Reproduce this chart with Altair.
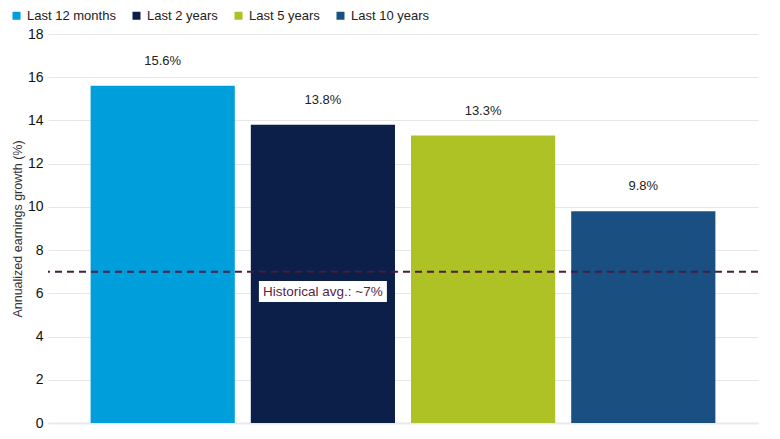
import altair as alt
import pandas as pd

# chart values
periods = ["Last 12 months", "Last 2 years", "Last 5 years", "Last 10 years"]
growth = [15.6, 13.8, 13.3, 9.8]
bar_colors = ["#009EDB", "#0B1F48", "#AEC226", "#1A4F81"]
y_ticks = [0, 2, 4, 6, 8, 10, 12, 14, 16, 18]

hist_avg = 7
note_text = "Historical avg.: ~7%"
note_period = "Last 2 years"
note_y = 6.08
note_top = 6.57
note_bottom = 5.6

font = "Liberation Sans"

df = pd.DataFrame({
    "period": periods,
    "growth": growth,
    "label": [f"{g:.1f}%" for g in growth],
})
avg_df = pd.DataFrame({"avg": [hist_avg]})
note_df = pd.DataFrame({
    "period": [note_period],
    "y": [note_y],
    "top": [note_top],
    "bottom": [note_bottom],
    "text": [note_text],
})

x_scale = alt.Scale(domain=periods, paddingInner=0.1, paddingOuter=0.266)
x_axis = alt.Axis(
    labels=False, ticks=False, title=None, grid=False,
    domainColor="#E6EAEF", domainWidth=2,
)
y_scale = alt.Scale(domain=[0, 18], nice=False)
y_axis = alt.Axis(
    values=y_ticks, title="Annualized earnings growth (%)",
    titleFont=font, titleFontSize=12.5, titleFontWeight="normal", titleColor="#333333",
    titlePadding=3, labelFont=font, labelFontSize=14, labelColor="#111111",
    labelPadding=5, ticks=False, domain=False,
    grid=True, gridColor="#E6E6E6", gridWidth=1,
)

x_enc = alt.X("period:N", scale=x_scale, axis=x_axis, sort=periods)

bars = alt.Chart(df).mark_bar().encode(
    x=x_enc,
    y=alt.Y("growth:Q", scale=y_scale, axis=y_axis),
    color=alt.Color(
        "period:N", sort=periods,
        scale=alt.Scale(domain=periods, range=bar_colors),
        legend=alt.Legend(
            title=None, orient="none", direction="horizontal",
            legendX=-38, legendY=-25, symbolType="square", symbolSize=64,
            symbolStrokeWidth=0, labelFont=font, labelFontSize=13,
            labelColor="#222222", columnPadding=14, symbolOffset=0,
            labelOffset=4,
        ),
    ),
)

labels = alt.Chart(df).mark_text(
    dy=-25, font=font, fontSize=13, color="#222222", baseline="middle"
).encode(
    x=x_enc,
    y=alt.Y("growth:Q", scale=y_scale),
    text="label:N",
)

rule = alt.Chart(avg_df).mark_rule(
    color="#4B1A3C", strokeDash=[7, 5], strokeWidth=2
).encode(y=alt.Y("avg:Q", scale=y_scale))

box = alt.Chart(note_df).mark_bar(width=128, color="white").encode(
    x=x_enc,
    y=alt.Y("top:Q", scale=y_scale),
    y2="bottom:Q",
)

note = alt.Chart(note_df).mark_text(
    font=font, fontSize=13.5, color="#5B1E45", baseline="middle"
).encode(
    x=x_enc,
    y=alt.Y("y:Q", scale=y_scale),
    text="text:N",
)

chart = alt.layer(bars, rule, box, note, labels).properties(
    width=710,
    height=389,
    autosize=alt.AutoSizeParams(type="none"),
    padding={"left": 40, "top": 26, "right": 10, "bottom": 8},
).configure_view(stroke=None)

chart.save("out.html", embed_options={"renderer": "svg", "actions": False})
